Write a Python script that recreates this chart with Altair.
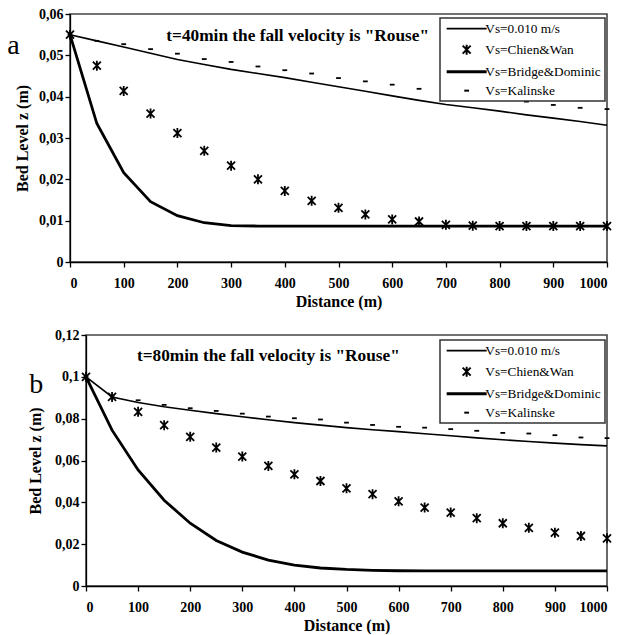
import altair as alt
import pandas as pd

# ---------------- data ----------------
distance = list(range(0, 1001, 50))
series_names = ["Vs=0.010 m/s", "Vs=Chien&Wan", "Vs=Bridge&Dominic", "Vs=Kalinske"]

# panel a (t = 40 min)
a_vs010 = [0.0550, 0.0535, 0.0520, 0.0505, 0.0490, 0.0478, 0.0466, 0.0456, 0.0446, 0.0435,
           0.0424, 0.0413, 0.0402, 0.0391, 0.0381, 0.0373, 0.0365, 0.0356, 0.0348, 0.0340, 0.0331]
a_chien = [0.0550, 0.0475, 0.0414, 0.0359, 0.0312, 0.0269, 0.0233, 0.0200, 0.0172, 0.0148,
           0.0131, 0.0115, 0.0103, 0.0098, 0.0090, 0.0088, 0.0087, 0.0087, 0.0087, 0.0087, 0.0087]
a_bridge = [0.0550, 0.0335, 0.0216, 0.0146, 0.0112, 0.0095, 0.0088, 0.0087, 0.0087, 0.0087,
            0.0087, 0.0087, 0.0087, 0.0087, 0.0087, 0.0087, 0.0087, 0.0087, 0.0087, 0.0087, 0.0087]
a_kalinske = [0.0550, 0.0535, 0.0527, 0.0515, 0.0504, 0.0491, 0.0484, 0.0473, 0.0464, 0.0456,
              0.0445, 0.0437, 0.0429, 0.0419, 0.0412, 0.0404, 0.0396, 0.0388, 0.0380, 0.0373, 0.0370]

# panel b (t = 80 min)
b_vs010 = [0.1000, 0.0904, 0.0877, 0.0857, 0.0840, 0.0824, 0.0809, 0.0795, 0.0781, 0.0769,
           0.0757, 0.0747, 0.0738, 0.0728, 0.0718, 0.0708, 0.0699, 0.0691, 0.0683, 0.0676, 0.0670]
b_chien = [0.1000, 0.0904, 0.0833, 0.0769, 0.0713, 0.0662, 0.0619, 0.0574, 0.0534, 0.0502,
           0.0467, 0.0439, 0.0405, 0.0375, 0.0351, 0.0324, 0.0300, 0.0278, 0.0255, 0.0239, 0.0228]
b_bridge = [0.1000, 0.0745, 0.0555, 0.0410, 0.0300, 0.0218, 0.0162, 0.0124, 0.0100, 0.0086,
            0.0079, 0.0075, 0.0073, 0.0072, 0.0072, 0.0072, 0.0072, 0.0072, 0.0072, 0.0072, 0.0072]
b_kalinske = [0.1000, 0.0910, 0.0888, 0.0866, 0.0850, 0.0837, 0.0824, 0.0810, 0.0802, 0.0796,
              0.0781, 0.0770, 0.0761, 0.0757, 0.0750, 0.0742, 0.0732, 0.0729, 0.0721, 0.0710, 0.0707]

x_ticks = list(range(0, 1001, 100))
a_y_ticks = [0, 0.01, 0.02, 0.03, 0.04, 0.05, 0.06]
b_y_ticks = [0, 0.02, 0.04, 0.06, 0.08, 0.10, 0.12]

a_note = ['t=40min the fall velocity is "Rouse"']
a_note_pos = [424, 0.0547]
b_note = ['t=80min the fall velocity is "Rouse"']
b_note_pos = [350, 0.110]
a_tag = ["a"]
a_tag_pos = [-117, 0.0504]
b_tag = ["b"]
b_tag_pos = [-109, 0.0925]

# ---------------- styling ----------------
FONT = "Liberation Serif"
LINE_PATH = "M-5,0L5,0"
STAR_PATH = "M-1,-1L1,1M-1,1L1,-1M0,-1.25L0,1.25"
DASH_PATH = "M-0.6,0L0.6,0"
LABEL_EXPR = "datum.value == 0 ? '0' : replace(format(datum.value, '.2~f'), '.', ',')"
LEGEND_SW = alt.ExprRef(expr="datum.value === 'Vs=Bridge&Dominic' ? 3 : (datum.value === 'Vs=0.010 m/s' ? 1.6 : 2)")


def make_df(vs010, chien, bridge, kalinske):
    rows = []
    for name, vals in zip(series_names, [vs010, chien, bridge, kalinske]):
        for d, z in zip(distance, vals):
            rows.append({"distance": d, "z": z, "series": name})
    return pd.DataFrame(rows)


def panel(df, ymax, yticks, width, height, legend_x, legend_y, title_pad,
          note, note_pos, tag, tag_pos):
    x_enc = alt.X("distance:Q",
                  scale=alt.Scale(domain=[0, 1000], nice=False),
                  axis=alt.Axis(values=x_ticks, title="Distance (m)", format="d"))
    y_enc = alt.Y("z:Q",
                  scale=alt.Scale(domain=[0, ymax], nice=False, zero=True),
                  axis=alt.Axis(values=yticks, labelExpr=LABEL_EXPR,
                                title="Bed Level z (m)", titlePadding=title_pad))
    base = alt.Chart(df).encode(x=x_enc, y=y_enc)
    thin = base.transform_filter(alt.datum.series == series_names[0]).mark_line(
        color="black", strokeWidth=1.6)
    thick = base.transform_filter(alt.datum.series == series_names[2]).mark_line(
        color="black", strokeWidth=2.8)
    pts = base.transform_filter(
        (alt.datum.series == series_names[1]) | (alt.datum.series == series_names[3])
    ).mark_point(filled=False, size=64, color="black", strokeWidth=1.8, opacity=1).encode(
        shape=alt.Shape(
            "series:N",
            scale=alt.Scale(domain=series_names,
                            range=[LINE_PATH, STAR_PATH, LINE_PATH, DASH_PATH]),
            legend=alt.Legend(
                title=None, orient="none", legendX=legend_x, legendY=legend_y,
                symbolStrokeWidth=LEGEND_SW,
            ),
        )
    )
    note_df = pd.DataFrame({"distance": [note_pos[0]], "z": [note_pos[1]], "t": note})
    note_layer = alt.Chart(note_df).mark_text(
        font=FONT, fontSize=17.3, fontWeight="bold", color="black",
        align="center", baseline="middle").encode(x=x_enc, y=y_enc, text="t:N")
    tag_df = pd.DataFrame({"distance": [tag_pos[0]], "z": [tag_pos[1]], "t": tag})
    tag_layer = alt.Chart(tag_df).mark_text(
        font=FONT, fontSize=28, color="black", align="left", baseline="alphabetic",
        clip=False).encode(x=x_enc, y=y_enc, text="t:N")
    return alt.layer(thin, thick, pts, note_layer, tag_layer).properties(
        width=width, height=height)


def spacer(w):
    return alt.Chart(pd.DataFrame({"v": [""]})).mark_text(fontSize=1).encode(
        x=alt.value(w / 2), y=alt.value(0.5), text="v:N"
    ).properties(width=w, height=1, view=alt.ViewBackground(strokeOpacity=0))


df_a = make_df(a_vs010, a_chien, a_bridge, a_kalinske)
df_b = make_df(b_vs010, b_chien, b_bridge, b_kalinske)

panel_a = panel(df_a, 0.06, a_y_ticks, 537, 248, 370, 4, 8,
                a_note, a_note_pos, a_tag, a_tag_pos)
panel_b = panel(df_b, 0.12, b_y_ticks, 521, 251, 354, 5, 11,
                b_note, b_note_pos, b_tag, b_tag_pos)

row_a = alt.hconcat(spacer(70), panel_a, spacing=0, bounds="flush").resolve_scale(
    shape="independent").resolve_legend(shape="independent")
row_b = alt.hconcat(spacer(86), panel_b, spacing=0, bounds="flush").resolve_scale(
    shape="independent").resolve_legend(shape="independent")

chart = alt.vconcat(row_a, row_b, spacing=17, bounds="full").resolve_scale(
    shape="independent").resolve_legend(shape="independent").properties(
    padding={"left": 0, "top": 6, "right": 0, "bottom": 0},
    background="white",
).configure_view(
    stroke="#444", strokeWidth=1.6
).configure_axis(
    grid=False, domainColor="black", domainWidth=1.3, tickColor="black", tickWidth=1.3,
    tickSize=5, labelFont=FONT, labelFontSize=14, labelFontWeight="bold", labelColor="black",
    titleFont=FONT, titleFontSize=16, titleFontWeight="bold", titleColor="black",
).configure_axisX(
    labelPadding=9, titlePadding=3
).configure_axisY(
    labelPadding=2
).configure_legend(
    fillColor="white", strokeColor="#333", strokeWidth=1.5, padding=4, labelFont=FONT,
    labelFontSize=13.3, labelColor="black", rowPadding=5, symbolSize=64,
    symbolStrokeColor="black", symbolFillColor="transparent", symbolOffset=16,
    labelOffset=12, labelLimit=300,
)

chart.save("out.html", embed_options={"renderer": "svg", "actions": False})
